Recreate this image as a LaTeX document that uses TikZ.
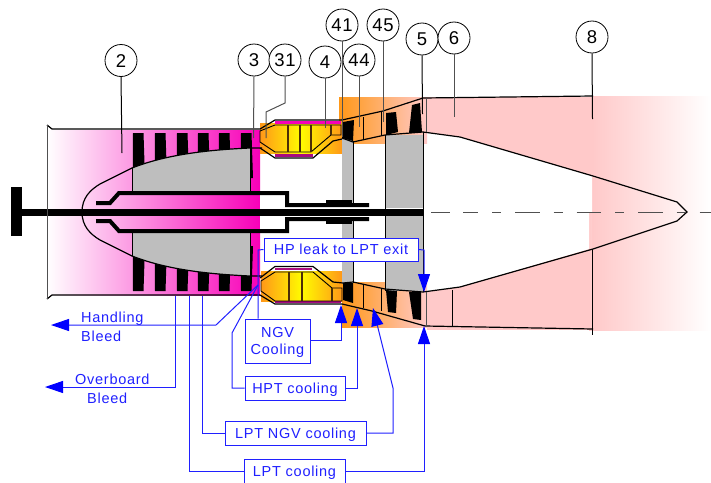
\documentclass[tikz,border=0pt]{standalone}
\usepackage{fontspec}
\setmainfont{Liberation Sans}
\newfontfamily\labfont[LetterSpace=5]{Liberation Sans}
\usetikzlibrary{arrows.meta}
\definecolor{mag}{HTML}{F800B8}
\definecolor{darkmag}{HTML}{A80C80}
\definecolor{org}{HTML}{FF9818}
\definecolor{yel}{HTML}{FFFC00}
\definecolor{pinkish}{HTML}{FFC9C9}
\definecolor{drum}{HTML}{BEBEBE}
\definecolor{blu}{HTML}{2020FF}
\definecolor{bluhead}{HTML}{0000FF}
\definecolor{lead}{HTML}{505050}
\tikzset{
  circ/.style={circle,draw=black,line width=.8pt,fill=white,minimum size=32pt,inner sep=0pt,text height=13.2pt,text depth=0pt,font=\labfont\fontsize{18.5}{18.5}\selectfont},
  leader/.style={draw=lead,line width=1pt},
  edge/.style={draw=black,line width=1.2pt},
  thin edge/.style={draw=black,line width=.9pt},
  shaftline/.style={draw=black,line width=4pt},
  bluebox/.style={draw=blu,line width=1pt,fill=white,inner sep=0pt,text=blu,font=\labfont\fontsize{14.5}{17}\selectfont},
  oneline/.style={text height=10.4pt,text depth=0pt},
  bluetext/.style={text=blu,inner sep=0pt,text height=10.4pt,text depth=0pt,font=\labfont\fontsize{14.5}{17}\selectfont},
  blueline/.style={draw=blu,line width=1pt},
  bluearrow/.style={draw=blu,line width=1pt,-{Triangle[length=18pt,width=12pt,bluhead]}},
}
\begin{document}
\begin{tikzpicture}[x=1pt,y=-1pt]
\useasboundingbox (0,0) rectangle (711,482);
% exhaust
\fill[pinkish] (427,97) rectangle (592,330);
\shade[left color=pinkish,right color=white] (592,96) rectangle (711,330);
\shade[left color=pinkish,right color=pinkish!88!white] (589,212) rectangle (592,330);
\fill[white] (423,132)--(460,137)--(592,176)--(592,212)--(589,212)--(589,249)--(460,287)--(423,292)--cycle;
% inlet
\shade[left color=white,right color=mag] (47,130) rectangle (260,295);
\fill[white] (260,193) rectangle (300,231);
% turbine background
\shade[left color=org,right color=pinkish] (339,97) rectangle (427,143);
\shade[left color=org,right color=pinkish] (342,282) rectangle (427,327);
% combustor background
\shade[left color=org,right color=org,middle color=yel] (260,123) rectangle (342,153);
\shade[left color=org,right color=org,middle color=yel] (261,271) rectangle (342,301);
% compressor blades
\foreach \x in {133,155,177,198,219,241}{
  \fill[black] (\x,133)--(\x+10.5,133)--(\x+12,178)--(\x-.3,178)--cycle;
  \fill[black] (\x,291)--(\x+10.5,291)--(\x+12,246)--(\x-.3,246)--cycle;
}
% compressor drum
\fill[drum] (132,168) .. controls (165,155) and (205,150) .. (250,148) -- (250,191) -- (132,191) -- cycle;
\fill[drum] (132,256) .. controls (165,269) and (205,274) .. (250,276) -- (250,233) -- (132,233) -- cycle;
\draw[thin edge] (132,191)--(132,168) (250,148)--(250,191) (132,233)--(132,256) (250,233)--(250,276);
\draw[edge] (132,168) .. controls (165,155) and (205,150) .. (250,148) -- (262,148);
\draw[edge] (132,256) .. controls (165,269) and (205,274) .. (250,276) -- (262,276);
\draw[edge] (132,168)--(100,184) .. controls (90,190) and (82,198) .. (82,212) .. controls (82,226) and (90,234) .. (100,240) -- (132,256);
% turbine disks
\fill[drum] (342,138) rectangle (353,205);
\fill[drum] (342,219) rectangle (353,284);
\fill[drum] (385,135) rectangle (423,208);
\fill[drum] (385,216) rectangle (423,291);
\draw[thin edge] (353,141)--(353,205) (353,219)--(353,283) (385,135)--(385,291) (423,132)--(423,292);
% shafts
\draw[shaftline,line join=miter] (96,203)--(110,203)--(119,193)--(287,193)--(287,205)--(369,205);
\draw[shaftline,line join=miter] (96,221)--(110,221)--(119,231)--(287,231)--(287,219)--(369,219);
\fill[black] (326,200) rectangle (352,205);
\fill[black] (326,219) rectangle (352,224);
\fill[black] (22,208.5) rectangle (423,215.5);
\fill[black] (11,187) rectangle (22,236);
% casing
\draw[edge] (47,125)--(52,129)--(260,129)--(275,120)--(342,120);
\draw[edge] (47,299)--(52,295)--(260,295)--(275,304)--(342,304);
\draw[draw=lead,line width=1pt] (47,125)--(47,299);
% upper combustor
\draw[draw=mag,line width=2.6pt] (275,122.5)--(341,122.5);
\draw[draw=darkmag,line width=2.6pt] (275,155.5)--(313,155.5);
\draw[edge] (260,148)--(275,158)--(313,158)--(333,141)--(342,139);
\draw[thin edge] (260,131)--(260,142)--(275,152)--(311,152)--(331,135)--(341,135)--(341,125)--(275,125)--cycle;
\draw[draw=black!70!org,line width=1.1pt] (288,125)--(288,152) (300,125)--(300,152) (311,125)--(311,152) (331,125)--(331,135);
% lower combustor
\draw[draw=darkmag,line width=2.6pt] (275,269)--(312,269);
\draw[draw=darkmag,line width=2.6pt] (275,302)--(341,302);
\draw[edge] (260,278)--(275,266.5)--(313,266.5)--(333,282)--(343,283);
\draw[thin edge] (261,281)--(275,272)--(313,272)--(332,288)--(342,288)--(342,301)--(275,301)--(261,291)--cycle;
\draw[draw=black!70!org,line width=1.1pt] (289,272)--(289,301) (302,272)--(302,301) (332,288)--(332,301);
% turbine vanes
\fill[black] (343,122)--(354,120)--(353,141)--(342,138)--cycle;
\fill[black] (386,113)--(396,112)--(398,132)--(386,135)--cycle;
\fill[black] (412,105)--(420,103)--(422,132)--(409,133)--cycle;
\fill[black] (343,283)--(353,283)--(353,303)--(343,300)--cycle;
\fill[black] (386,290)--(397,291)--(396,313)--(388,312)--cycle;
\fill[black] (409,292)--(421,292)--(421,320)--(413,319)--cycle;
% flow path lines
\draw[edge] (342,120)--(383,111)--(423,98)--(593,96);
\draw[edge] (342,304)--(372,311)--(425,326)--(593,329);
\draw[edge] (342,138)--(353,142)--(385,135)--(423,132)--(460,137)--(593,176)--(677,202)--(687,212)--(677,221)--(593,249)--(460,287)--(423,292)--(385,289)--(353,282)--(343,283);
\draw[thin edge] (363,117)--(363,140) (381,112)--(381,135) (363,285)--(363,308) (381,288)--(381,311) (452,290)--(452,327);
\draw[draw=lead,line width=.9pt] (426,98)--(426,132) (426,292)--(426,327);
% centre line
\coordinate (cl0) at (431,212);
\coordinate (cl0e) at (450,212);
\coordinate (cl1) at (463,212);
\coordinate (cl1e) at (478,212);
\coordinate (cl2) at (492,212);
\coordinate (cl3) at (711,212);
\draw[draw=lead,line width=1pt] (cl0)--(cl0e);
\draw[draw=lead,line width=1pt] (cl1)--(cl1e);
\draw[draw=lead,line width=1pt,dash pattern=on 9pt off 14pt on 24.5pt off 14pt] (cl2)--(cl3);
% stations
\node[circ] (c2) at (121,60.5) {2};
\node[circ] (c3) at (254,60) {3};
\node[circ] (c31) at (285,60) {31};
\node[circ] (c4) at (325,62) {4};
\node[circ] (c41) at (342,25) {41};
\node[circ] (c44) at (359,60) {44};
\node[circ] (c45) at (383,25) {45};
\node[circ] (c5) at (422,39) {5};
\node[circ] (c6) at (454,38) {6};
\node[circ] (c8) at (592,37) {8};
\coordinate (e2) at (122,153);
\coordinate (e3) at (253.5,138);
\coordinate (e31a) at (285,103);
\coordinate (e31b) at (266,112);
\coordinate (e31c) at (266,138);
\coordinate (e4) at (325,128);
\coordinate (e41) at (342,137);
\coordinate (e44) at (359,127);
\coordinate (e45) at (383,122);
\coordinate (e5) at (422.5,114);
\coordinate (e6) at (454,117);
\coordinate (e8) at (592.5,119);
\coordinate (e8a) at (592.5,249);
\coordinate (e8b) at (592.5,335);
\draw[edge,line width=1pt] (c2.south)--(e2);
\draw[leader] (c3.south)--(e3);
\draw[leader] (c31.south)--(e31a)--(e31b)--(e31c);
\draw[leader] (c4.south)--(e4);
\draw[leader] (c41.south)--(e41);
\draw[leader] (c44.south)--(e44);
\draw[leader] (c45.south)--(e45);
\draw[edge,line width=1pt] (c5.south)--(e5);
\draw[leader] (c6.south)--(e6);
\draw[edge,line width=1pt] (c8.south)--(e8);
\draw[edge,line width=1pt] (e8a)--(e8b);
% blue network
\coordinate (src) at (258,285);
\coordinate (hb1) at (216,325);
\coordinate (hb2) at (51,325);
\coordinate (ob0) at (175,296);
\coordinate (ob1) at (175,387);
\coordinate (ob2) at (45,387);
\coordinate (hp0) at (232,333);
\coordinate (hp1) at (232,388);
\coordinate (lng0) at (202,296);
\coordinate (lng1) at (202,433);
\coordinate (lp0) at (189,296);
\coordinate (lp1) at (189,471.5);
\coordinate (a1) at (424,250);
\coordinate (t1) at (424,292);
\coordinate (a2) at (341,340);
\coordinate (t2) at (341,305);
\coordinate (a3) at (357,388);
\coordinate (t3) at (357,308);
\coordinate (a4a) at (393,433);
\coordinate (a4b) at (393,388);
\coordinate (t4) at (373,308);
\coordinate (a5) at (424,471.5);
\coordinate (t5) at (424,326);
\coordinate (j0) at (258,250);
\node[bluebox,oneline,minimum width=154pt,minimum height=23pt] (hpleak) at (341,249.5) {HP leak to LPT exit};
\node[bluebox,minimum width=65pt,minimum height=44pt] (ngv) at (277.5,341) {\raisebox{-5.6pt}[0pt][0pt]{\begin{tabular}{@{}c@{}}NGV\\Cooling\end{tabular}}};
\node[bluebox,oneline,minimum width=100pt,minimum height=24pt] (hpt) at (295,388) {HPT cooling};
\node[bluebox,oneline,minimum width=141pt,minimum height=24pt] (lptngv) at (295.5,433) {LPT NGV cooling};
\node[bluebox,oneline,minimum width=101pt,minimum height=25pt] (lpt) at (294.5,471.5) {LPT cooling};
\node[bluetext,anchor=west] (hbt1) at (81,317) {Handling};
\node[bluetext,anchor=west] (hbt2) at (81,336) {Bleed};
\node[bluetext,anchor=west] (obt1) at (75,379) {Overboard};
\node[bluetext,anchor=west] (obt2) at (87,398) {Bleed};
\draw[bluearrow] (src)--(hb1)--(hb2);
\draw[bluearrow] (ob0)--(ob1)--(ob2);
\draw[blueline] (hpleak.west)--(j0)--(ngv.north -| j0);
\draw[bluearrow] (hpleak.east)--(a1)--(t1);
\draw[bluearrow] (ngv.east |- a2)--(a2)--(t2);
\draw[blueline] (src)--(hp0)--(hp1)--(hpt.west);
\draw[bluearrow] (hpt.east)--(a3)--(t3);
\draw[blueline] (lng0)--(lng1)--(lptngv.west);
\draw[bluearrow] (lptngv.east)--(a4a)--(a4b)--(t4);
\draw[blueline] (lp0)--(lp1)--(lpt.west);
\draw[bluearrow] (lpt.east)--(a5)--(t5);
\end{tikzpicture}
\end{document}
